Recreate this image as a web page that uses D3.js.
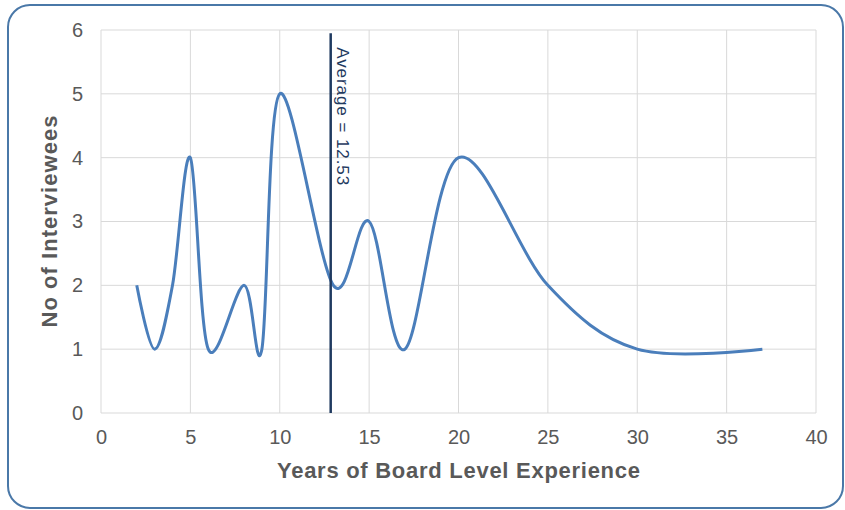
<!DOCTYPE html>
<html>
<head>
<meta charset="utf-8">
<title>Board Level Experience</title>
<script src="https://cdn.jsdelivr.net/npm/d3@7"></script>
<style>
  body { margin: 0; background: #fff; }
  text { font-family: "Liberation Sans", Arial, sans-serif; }
</style>
</head>
<body>
<div id="chart"></div>
<script>
// data
var years = [2, 3, 4, 5, 6, 8, 9, 10, 13, 15, 17, 20, 25, 30, 37];
var interviewees = [2, 1, 2, 4, 1, 2, 1, 5, 2, 3, 1, 4, 2, 1, 1];
var xTicks = [0, 5, 10, 15, 20, 25, 30, 35, 40];
var yTicks = [0, 1, 2, 3, 4, 5, 6];
var averageLabel = "Average = 12.53";
var averageLinePos = 12.85; // where the marker line sits in the picture
var averageLineTop = 5.95;

var W = 845, H = 510;
var margin = {top: 30, right: 29, bottom: 97, left: 101},
    width = W - margin.left - margin.right,
    height = H - margin.top - margin.bottom;

var svg = d3.select("#chart").append("svg")
    .attr("width", W)
    .attr("height", H);

// outer rounded frame
svg.append("rect")
    .attr("x", 8).attr("y", 5)
    .attr("width", 835).attr("height", 503)
    .attr("rx", 22).attr("ry", 22)
    .attr("fill", "#fff")
    .attr("stroke", "#4a78a8")
    .attr("stroke-width", 2);

var g = svg.append("g")
    .attr("transform", "translate(" + margin.left + "," + margin.top + ")");

var x = d3.scaleLinear().domain([0, 40]).range([0, width]);
var y = d3.scaleLinear().domain([0, 6]).range([height, 0]);

// gridlines
g.append("g")
    .selectAll("line")
    .data(xTicks)
  .enter().append("line")
    .attr("x1", function(d) { return x(d); })
    .attr("x2", function(d) { return x(d); })
    .attr("y1", 0).attr("y2", height)
    .attr("stroke", "#d9d9d9").attr("stroke-width", 1);

g.append("g")
    .selectAll("line")
    .data(yTicks)
  .enter().append("line")
    .attr("x1", 0).attr("x2", width)
    .attr("y1", function(d) { return y(d); })
    .attr("y2", function(d) { return y(d); })
    .attr("stroke", "#d9d9d9").attr("stroke-width", 1);

// axes (labels only, Excel style)
var xAxis = g.append("g")
    .attr("transform", "translate(0," + height + ")")
    .call(d3.axisBottom(x).tickValues(xTicks).tickFormat(d3.format("d")).tickSize(0).tickPadding(17));
var yAxis = g.append("g")
    .call(d3.axisLeft(y).tickValues(yTicks).tickFormat(d3.format("d")).tickSize(0).tickPadding(18));

[xAxis, yAxis].forEach(function(a) {
  a.select(".domain").remove();
  a.selectAll("text")
    .attr("fill", "#595959")
    .style("font-size", "20px")
    .style("font-family", "'Liberation Sans', Arial, sans-serif");
});

// smoothed line
var line = d3.line()
    .x(function(d) { return x(d[0]); })
    .y(function(d) { return y(d[1]); })
    .curve(d3.curveCardinal.tension(0));

g.append("path")
    .datum(d3.zip(years, interviewees))
    .attr("fill", "none")
    .attr("stroke", "#4a7ebb")
    .attr("stroke-width", 3)
    .attr("stroke-linejoin", "round")
    .attr("d", line);

// average marker
g.append("line")
    .attr("x1", x(averageLinePos)).attr("x2", x(averageLinePos))
    .attr("y1", y(averageLineTop)).attr("y2", y(0))
    .attr("stroke", "#1f3a60")
    .attr("stroke-width", 2.5);

g.append("text")
    .attr("transform", "translate(" + (x(averageLinePos) + 6.5) + "," + (y(averageLineTop) + 14) + ") rotate(90)")
    .attr("fill", "#1f3a60")
    .attr("textLength", 138)
    .style("font-size", "17px")
    .text(averageLabel);

// axis titles
svg.append("text")
    .attr("x", margin.left + width / 2)
    .attr("y", 478)
    .attr("text-anchor", "middle")
    .attr("fill", "#595959")
    .attr("textLength", 363)
    .style("font-size", "22px")
    .style("font-weight", "bold")
    .text("Years of Board Level Experience");

svg.append("text")
    .attr("transform", "translate(57," + (margin.top + height / 2) + ") rotate(-90)")
    .attr("text-anchor", "middle")
    .attr("fill", "#595959")
    .attr("textLength", 212)
    .style("font-size", "22px")
    .style("font-weight", "bold")
    .text("No of Interviewees");
</script>
</body>
</html>
